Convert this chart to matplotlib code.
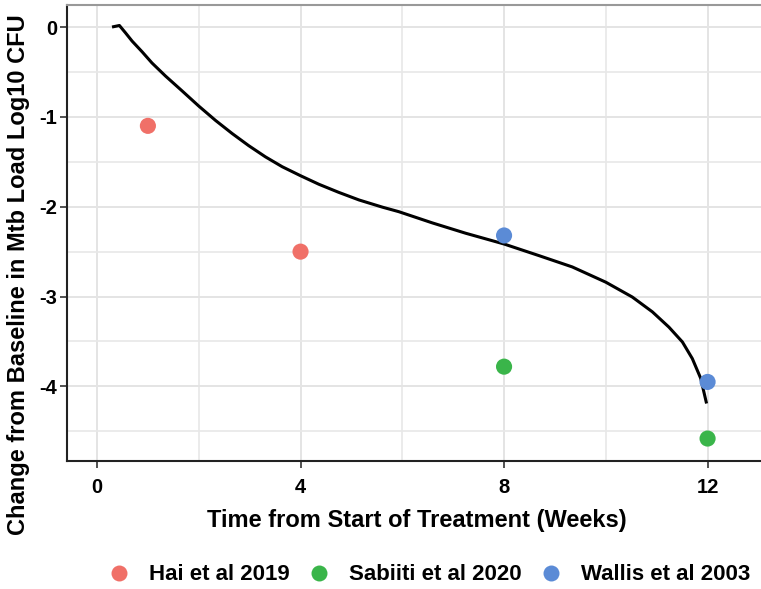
import matplotlib
matplotlib.use("Agg")
import matplotlib.pyplot as plt
from matplotlib.lines import Line2D

plt.rcParams['font.family'] = ['Liberation Sans', 'DejaVu Sans']
plt.rcParams['axes.unicode_minus'] = False

# Study data points
hai_weeks = [1, 4]
hai_change = [-1.10, -2.50]
sabiiti_weeks = [8, 12]
sabiiti_change = [-3.78, -4.58]
wallis_weeks = [8, 12]
wallis_change = [-2.32, -3.95]

# Fitted curve
curve_weeks = [0.295, 0.44, 0.56, 0.69, 0.885, 1.08, 1.345, 1.67, 2.00, 2.33,
               2.655, 2.98, 3.31, 3.64, 4.00, 4.36, 4.75, 5.15, 5.61, 5.93,
               6.59, 7.245, 8.00, 8.69, 9.34, 10.00, 10.52, 10.915, 11.24,
               11.505, 11.70, 11.865, 11.98]
curve_change = [0.00, 0.017, -0.065, -0.157, -0.275, -0.40, -0.545, -0.71, -0.88, -1.04,
                -1.185, -1.32, -1.445, -1.555, -1.655, -1.75, -1.84, -1.925, -2.005, -2.055,
                -2.18, -2.295, -2.415, -2.545, -2.67, -2.84, -3.005, -3.17, -3.34,
                -3.505, -3.69, -3.91, -4.19]

x_ticks = [0, 4, 8, 12]
y_ticks = [0, -1, -2, -3, -4]

labels = ["Hai et al 2019", "Sabiiti et al 2020", "Wallis et al 2003"]
colors = ["#F07068", "#3AB54A", "#5B8BD6"]

fig = plt.figure(figsize=(7.61, 5.89), dpi=100)
ax = fig.add_axes([67/761, 128/589, 1 - 67/761, (461 - 5)/589])

ax.set_xlim(-0.59, 13.05)
ax.set_ylim(-4.83, 0.245)

ax.set_xticks(x_ticks)
ax.set_yticks(y_ticks)
ax.set_xticks([2, 6, 10], minor=True)
ax.set_yticks([-0.5, -1.5, -2.5, -3.5, -4.5], minor=True)
ax.grid(True, which='major', color='#E4E4E4', linewidth=1.4)
ax.grid(True, which='minor', color='#E8E8E8', linewidth=1.2)
ax.set_axisbelow(True)
ax.tick_params(which='minor', length=0)
ax.tick_params(which='major', length=5, width=1.2, color='#333333',
               labelsize=14.5)
ax.tick_params(axis='x', pad=7)
ax.tick_params(axis='y', pad=2)
for lab in ax.get_xticklabels() + ax.get_yticklabels():
    lab.set_fontweight('bold')

for s in ['left', 'bottom']:
    ax.spines[s].set_color('#222222')
    ax.spines[s].set_linewidth(1.5)
ax.spines['top'].set_color('#999999')
ax.spines['top'].set_linewidth(1.5)
ax.spines['right'].set_visible(False)

ax.plot(curve_weeks, curve_change, color='black', linewidth=2.2, zorder=3,
        solid_capstyle='butt', solid_joinstyle='round')

for wk, ch, c in [(hai_weeks, hai_change, colors[0]),
                  (sabiiti_weeks, sabiiti_change, colors[1]),
                  (wallis_weeks, wallis_change, colors[2])]:
    ax.scatter(wk, ch, s=135, color=c, edgecolors='none', zorder=4)

ax.set_xlabel("Time from Start of Treatment (Weeks)", fontsize=17,
              fontweight='bold', va='center')
ax.xaxis.set_label_coords((416.6 - 67) / 694, (461 - 520) / 456)
ax.set_ylabel("Change from Baseline in Mtb Load Log10 CFU", fontsize=17,
              fontweight='bold', va='center')
ax.yaxis.set_label_coords((19 - 67) / 694, (461 - 275) / 456)

handles = [Line2D([0], [0], marker='o', linestyle='none', markersize=11.5,
                  markerfacecolor=c, markeredgecolor='none') for c in colors]
fig.legend(handles, labels, loc='center', bbox_to_anchor=(429/761, 1 - 575/589),
           ncol=3, frameon=False, prop={'size': 16, 'weight': 'bold'},
           handletextpad=0.85, columnspacing=0.8, handlelength=1.0)

fig.savefig("out.png", dpi=100)
